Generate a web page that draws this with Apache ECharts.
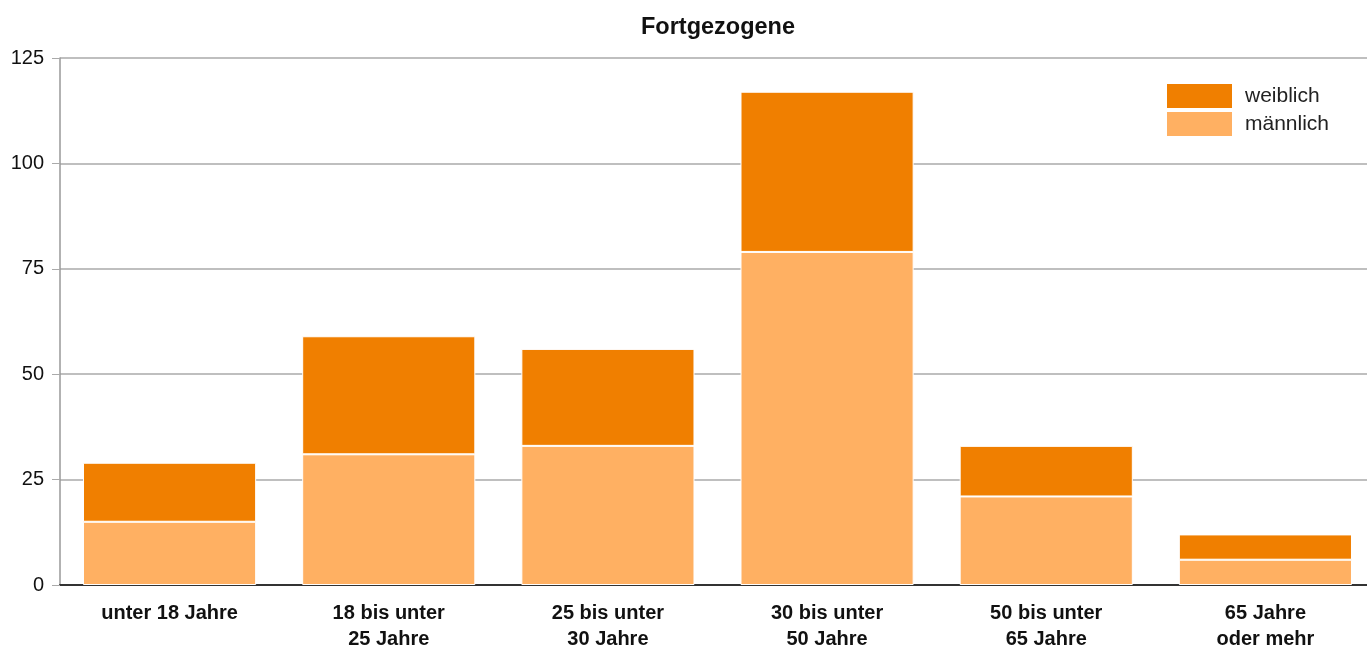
<!DOCTYPE html>
<html>
<head>
<meta charset="utf-8">
<script src="https://cdn.jsdelivr.net/npm/echarts@6/dist/echarts.min.js"></script>
<style>html,body{margin:0;padding:0;background:#fff}#c{width:1367px;height:647px}</style>
</head>
<body>
<div id="c"></div>
<script>
const categories = ['unter 18 Jahre', '18 bis unter\n25 Jahre', '25 bis unter\n30 Jahre', '30 bis unter\n50 Jahre', '50 bis unter\n65 Jahre', '65 Jahre\noder mehr'];
const maennlich = [15, 31, 33, 79, 21, 6];
const weiblich = [14, 28, 23, 38, 12, 6];
const yTicks = [0, 25, 50, 75, 100, 125];

const FONT = 'Liberation Sans, Arial, sans-serif';
const chart = echarts.init(document.getElementById('c'));
chart.setOption({
  animation: false,
  textStyle: { fontFamily: FONT },
  title: {
    text: 'Fortgezogene', left: 713, textAlign: 'center', top: 11,
    textStyle: { fontSize: 23.5, fontWeight: 'bold', color: '#111', fontFamily: FONT }
  },
  legend: {
    orient: 'vertical', left: 1165, top: 82, itemGap: 0, padding: 0,
    itemWidth: 67, itemHeight: 26,
    data: ['weiblich', 'männlich'],
    textStyle: { fontSize: 21, color: '#222', lineHeight: 26, padding: [0, 0, 0, 7] },
    icon: 'rect'
  },
  grid: { left: 60, right: -8, top: 58, bottom: 62, containLabel: false, outerBoundsMode: 'none' },
  xAxis: {
    type: 'category', data: categories,
    axisLine: { lineStyle: { color: '#333', width: 2 } },
    axisTick: { show: false },
    axisLabel: { fontSize: 20, fontWeight: 'bold', color: '#111', lineHeight: 26, margin: 15 }
  },
  yAxis: {
    type: 'value', min: yTicks[0], max: yTicks[yTicks.length - 1], interval: 25,
    axisLine: { show: true, lineStyle: { color: '#999', width: 1.5 } },
    axisTick: { show: true, length: 8, lineStyle: { color: '#aaa' } },
    splitLine: { lineStyle: { color: '#aaa', width: 1.5 } },
    axisLabel: { fontSize: 20, color: '#111', margin: 16 }
  },
  series: [
    { name: 'männlich', type: 'bar', stack: 's', data: maennlich, barCategoryGap: '21%',
      itemStyle: { color: '#FFB062', borderColor: '#fff', borderWidth: 1 } },
    { name: 'weiblich', type: 'bar', stack: 's', data: weiblich,
      itemStyle: { color: '#F07F00', borderColor: '#fff', borderWidth: 1 } }
  ]
});
</script>
</body>
</html>
